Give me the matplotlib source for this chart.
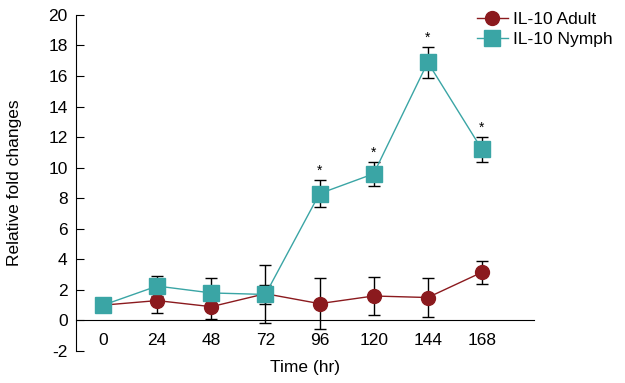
import matplotlib.pyplot as plt

plt.rcParams['font.family'] = ['Liberation Sans', 'DejaVu Sans']
plt.rcParams['axes.unicode_minus'] = False

hours = [0, 24, 48, 72, 96, 120, 144, 168]
adult = [1.0, 1.3, 0.9, 1.75, 1.1, 1.6, 1.5, 3.15]
adult_err = [0.1, 0.8, 0.8, 1.9, 1.65, 1.25, 1.25, 0.75]
nymph = [1.0, 2.25, 1.8, 1.7, 8.3, 9.6, 16.9, 11.2]
nymph_err = [0.05, 0.65, 0.95, 0.6, 0.9, 0.8, 1.0, 0.8]
signif = [False, False, False, False, True, True, True, True]

fig = plt.figure(figsize=(6.25, 3.83), dpi=100)
ax = fig.add_axes([0.1216, 0.0836, 0.7324, 0.8774])

red = '#8b1a1e'
teal = '#3aa5a5'

ax.errorbar(hours, adult, yerr=adult_err, fmt='none', ecolor='black',
            elinewidth=1, capsize=4, capthick=1, zorder=2)
ax.errorbar(hours, nymph, yerr=nymph_err, fmt='none', ecolor='black',
            elinewidth=1, capsize=4, capthick=1, zorder=2)
ax.plot(hours, adult, color=red, marker='o', markersize=10, lw=1,
        label='IL-10 Adult', zorder=3)
ax.plot(hours, nymph, color=teal, marker='s', markersize=11, lw=1,
        label='IL-10 Nymph', zorder=3)

for h, v, e, s in zip(hours, nymph, nymph_err, signif):
    if s:
        ax.text(h, v + e + 0.15, '*', ha='center', va='bottom', fontsize=10)

ax.set_xlim(-12, 191)
ax.set_ylim(-2, 20)
ax.set_yticks(range(-2, 21, 2))
ax.set_xticks(hours)
ax.spines['top'].set_visible(False)
ax.spines['right'].set_visible(False)
ax.spines['bottom'].set_position(('data', 0))
ax.tick_params(axis='y', direction='in', length=6, labelsize=12.5, pad=6)
ax.tick_params(axis='x', length=0, labelsize=12.5, pad=9)
ax.set_xlabel('Time (hr)', fontsize=12.5)
ax.xaxis.set_label_coords(0.5, -0.028)
ax.set_ylabel('Relative fold changes', fontsize=12.5)
ax.yaxis.set_label_coords(-0.118, 0.5)

ax.legend(loc='upper left', bbox_to_anchor=(0.86, 1.03), frameon=False,
          fontsize=12.5, handlelength=1.8, handletextpad=0.3, labelspacing=0.3,
          borderaxespad=0)

fig.savefig('out.png', dpi=100)
